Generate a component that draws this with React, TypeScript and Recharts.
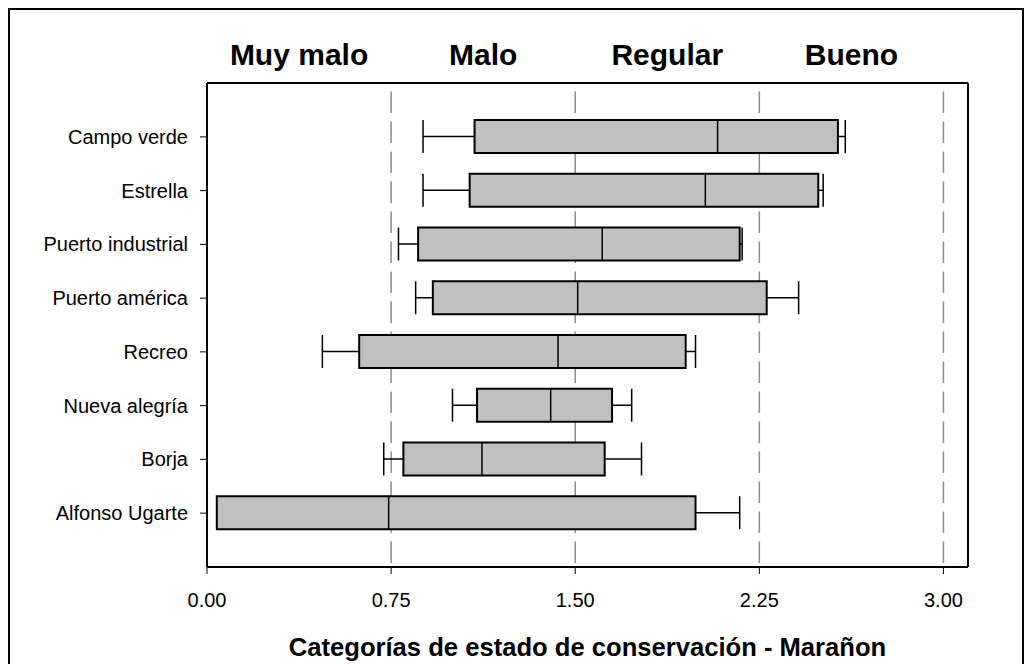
import React from 'react';
import { ComposedChart, Bar, XAxis, YAxis, CartesianGrid } from 'recharts';

const FONT = '"Liberation Sans", Arial, sans-serif';

// Sites, top to bottom
const sites = [
  'Campo verde',
  'Estrella',
  'Puerto industrial',
  'Puerto américa',
  'Recreo',
  'Nueva alegría',
  'Borja',
  'Alfonso Ugarte',
];

// Box plot statistics per site
const whiskerLow = [0.88, 0.88, 0.78, 0.85, 0.47, 1.0, 0.72, 0.04];
const q1 = [1.09, 1.07, 0.86, 0.92, 0.62, 1.1, 0.8, 0.04];
const median = [2.08, 2.03, 1.61, 1.51, 1.43, 1.4, 1.12, 0.74];
const q3 = [2.57, 2.49, 2.17, 2.28, 1.95, 1.65, 1.62, 1.99];
const whiskerHigh = [2.6, 2.51, 2.18, 2.41, 1.99, 1.73, 1.77, 2.17];

// Condition categories shown above the plot, centred on their interval
const conditionLabels = ['Muy malo', 'Malo', 'Regular', 'Bueno'];
const conditionMid = [0.375, 1.125, 1.875, 2.625];

const xTicks = [0, 0.75, 1.5, 2.25, 3];

const data = sites.map((name, i) => ({
  name,
  low: whiskerLow[i],
  q1: q1[i],
  median: median[i],
  q3: q3[i],
  high: whiskerHigh[i],
  range: [whiskerLow[i], whiskerHigh[i]],
}));

/**
 * Draws one horizontal box with whiskers inside the range bar
 */
function BoxShape(props: any) {
  const { x, y, width, height, payload } = props;
  if (!payload || width == null) return null;
  const { low, high } = payload;
  const px = (v: number) => x + ((v - low) / (high - low)) * width;
  const cy = y + height / 2;
  const xL = px(payload.low);
  const xQ1 = px(payload.q1);
  const xM = px(payload.median);
  const xQ3 = px(payload.q3);
  const xH = px(payload.high);
  return (
    <g>
      <line x1={xL} x2={xQ1} y1={cy} y2={cy} stroke="#000" strokeWidth={1.5} />
      <line x1={xQ3} x2={xH} y1={cy} y2={cy} stroke="#000" strokeWidth={1.5} />
      <line x1={xL} x2={xL} y1={y} y2={y + height} stroke="#000" strokeWidth={1.5} />
      <line x1={xH} x2={xH} y1={y} y2={y + height} stroke="#000" strokeWidth={1.5} />
      <rect
        x={xQ1}
        y={y}
        width={Math.max(xQ3 - xQ1, 0)}
        height={height}
        fill="#c0c0c0"
        stroke="#000"
        strokeWidth={2}
      />
      <line x1={xM} x2={xM} y1={y} y2={y + height} stroke="#000" strokeWidth={1.5} />
    </g>
  );
}

export default function App() {
  return (
    <div
      style={{
        position: 'relative',
        height: 680,
        border: '2px solid #000',
        background: '#fff',
        fontFamily: FONT,
      }}
    >
      <style>{'body{overflow:hidden}'}</style>
      <ComposedChart
        width={1012}
        height={660}
        data={data}
        layout="vertical"
        margin={{ top: 0, right: 53, bottom: 0, left: 0 }}
      >
        <CartesianGrid
          horizontal={false}
          stroke="#8c8c8c"
          strokeWidth={1.5}
          strokeDasharray="0 8.5 21.5 0"
        />
        <XAxis
          xAxisId="top"
          orientation="top"
          type="number"
          domain={[0, 3.1]}
          allowDataOverflow
          ticks={conditionMid}
          interval={0}
          tickFormatter={(v: number) => conditionLabels[conditionMid.indexOf(v)] ?? ''}
          tickSize={0}
          tickLine={false}
          tickMargin={18}
          height={73}
          stroke="#000"
          axisLine={{ strokeWidth: 2 }}
          tick={{ fill: '#000', fontSize: 30, fontWeight: 'bold', fontFamily: FONT }}
        />
        <XAxis
          type="number"
          domain={[0, 3.1]}
          allowDataOverflow
          ticks={xTicks}
          interval={0}
          tickFormatter={(v: number) => v.toFixed(2)}
          tickSize={7}
          tickMargin={19}
          height={103}
          stroke="#000"
          axisLine={{ strokeWidth: 2 }}
          tick={{ fill: '#000', fontSize: 20, fontFamily: FONT }}
          label={{
            value: 'Categorías de estado de conservación - Marañon',
            position: 'insideBottom',
            offset: 14,
            fill: '#000',
            fontSize: 25.6,
            fontWeight: 'bold',
            fontFamily: FONT,
          }}
        />
        <YAxis
          type="category"
          dataKey="name"
          width={197}
          interval={0}
          padding={{ top: 27, bottom: 27 }}
          tickSize={7}
          tickMargin={12}
          stroke="#000"
          axisLine={{ strokeWidth: 2 }}
          tick={{ fill: '#000', fontSize: 20, fontFamily: FONT }}
        />
        <YAxis
          yAxisId="right"
          orientation="right"
          type="category"
          dataKey="name"
          width={1}
          tick={false}
          tickLine={false}
          stroke="#000"
          axisLine={{ strokeWidth: 2 }}
        />
        <Bar
          dataKey="range"
          barSize={33}
          shape={<BoxShape />}
          isAnimationActive={false}
        />
      </ComposedChart>
    </div>
  );
}
